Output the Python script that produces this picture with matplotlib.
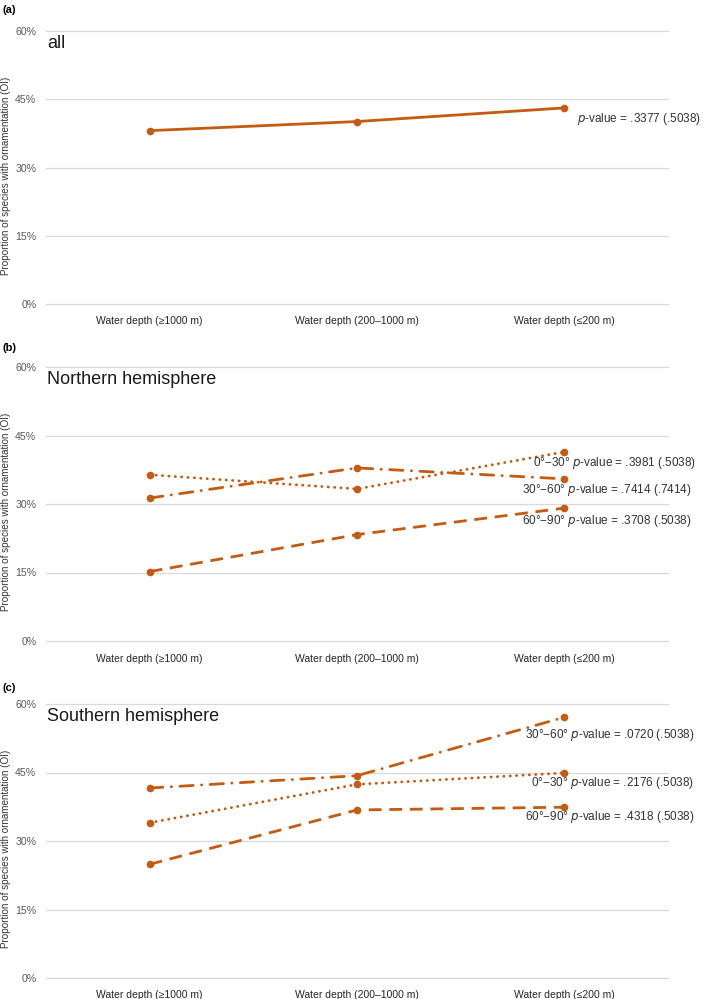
import matplotlib
matplotlib.use('Agg')
from matplotlib import pyplot as plt
from matplotlib.ticker import FuncFormatter

plt.rcParams['font.family'] = ['Liberation Sans', 'DejaVu Sans']

# categories on the x axis
depths = ['Water depth (≥1000 m)', 'Water depth (200–1000 m)', 'Water depth (≤200 m)']

# (a) all
all_oi = [38.1, 40.1, 43.1]
all_p = '.3377 (.5038)'

# (b) Northern hemisphere, by latitude band
north_0_30 = [36.4, 33.3, 41.4]
north_30_60 = [31.3, 37.9, 35.5]
north_60_90 = [15.2, 23.3, 29.1]
north_p = ['.3981 (.5038)', '.7414 (.7414)', '.3708 (.5038)']

# (c) Southern hemisphere, by latitude band
south_0_30 = [34.0, 42.4, 44.9]
south_30_60 = [41.6, 44.3, 57.1]
south_60_90 = [24.9, 36.8, 37.4]
south_p = ['.2176 (.5038)', '.0720 (.5038)', '.4318 (.5038)']

bands = ['0°−30°', '30°−60°', '60°−90°']

col = '#C55A11'
grey = '#595959'
styles = {
    '0°−30°': dict(dashes=(0.1, 2.2), dash_capstyle='round', solid_capstyle='round'),
    '30°−60°': dict(dashes=(4.8, 3.0, 0.1, 3.0), dash_capstyle='round'),
    '60°−90°': dict(dashes=(4.6, 2.8)),
}

fig = plt.figure(figsize=(7.09, 9.99), dpi=100)

left, width = 46/709, 622/709
tops = [31, 367, 704]
bottoms = [304, 641, 978]
titles = ['all', 'Northern hemisphere', 'Southern hemisphere']
letters = ['(a)', '(b)', '(c)']
letter_y = [10, 348, 688]

axes = []
for top, bot, ttl, let, ly in zip(tops, bottoms, titles, letters, letter_y):
    ax = fig.add_axes([left, 1 - bot/999, width, (bot - top)/999])
    ax.set_xlim(-0.5, 2.5)
    ax.set_ylim(0, 60)
    ax.set_yticks([0, 15, 30, 45, 60])
    ax.yaxis.set_major_formatter(FuncFormatter(lambda v, p: '%d%%' % v))
    ax.set_xticks(range(3))
    ax.set_xticklabels(depths, fontsize=7.5, color='#262626')
    ax.tick_params(axis='both', length=0)
    ax.tick_params(axis='y', labelsize=7.6, labelcolor=grey, pad=7)
    ax.tick_params(axis='x', pad=9)
    for s in ax.spines.values():
        s.set_visible(False)
    ax.grid(axis='y', color='#d9d9d9', lw=0.9)
    for gl in ax.get_ygridlines():
        gl.set_clip_on(False)
    ax.set_axisbelow(True)
    ax.set_ylabel('Proportion of species with ornamentation (OI)', fontsize=7.1, color='#333333')
    ax.yaxis.set_label_coords(-0.056, 0.47)
    ax.text(0.002, 0.985, ttl, transform=ax.transAxes, fontsize=13, va='top', ha='left', color='#1a1a1a')
    fig.text(0.003, 1 - ly/999, let, fontsize=8, fontweight='bold', va='center', ha='left')
    axes.append(ax)

x = list(range(3))

# (a)
ax = axes[0]
ax.plot(x, all_oi, color=col, lw=2.0, marker='o', ms=4.5)
ax.annotate('$\\it{p}$-value = ' + all_p, xy=(x[-1], all_oi[-1]), xytext=(13, -11),
            textcoords='offset pixels', ha='left', va='center', fontsize=8.5, color='#333333')

# (b)
ax = axes[1]
for b, vals in zip(bands, [north_0_30, north_30_60, north_60_90]):
    ax.plot(x, vals, color=col, lw=2.0, marker='o', ms=4.5, **styles[b])
offs_b = [(132, -11), (127, -11), (127, -13)]
for b, vals, p, off in zip(bands, [north_0_30, north_30_60, north_60_90], north_p, offs_b):
    ax.annotate(b + ' $\\it{p}$-value = ' + p, xy=(x[-1], vals[-1]), xytext=off,
                textcoords='offset pixels', ha='right', va='center', fontsize=8.5, color='#333333')

# (c)
ax = axes[2]
for b, vals in zip(bands, [south_0_30, south_30_60, south_60_90]):
    ax.plot(x, vals, color=col, lw=2.0, marker='o', ms=4.5, **styles[b])
offs_c = [(130, -10), (130, -18), (130, -10)]
for b, vals, p, off in zip(bands, [south_0_30, south_30_60, south_60_90], south_p, offs_c):
    ax.annotate(b + ' $\\it{p}$-value = ' + p, xy=(x[-1], vals[-1]), xytext=off,
                textcoords='offset pixels', ha='right', va='center', fontsize=8.5, color='#333333')

fig.savefig('out.png', dpi=100)
